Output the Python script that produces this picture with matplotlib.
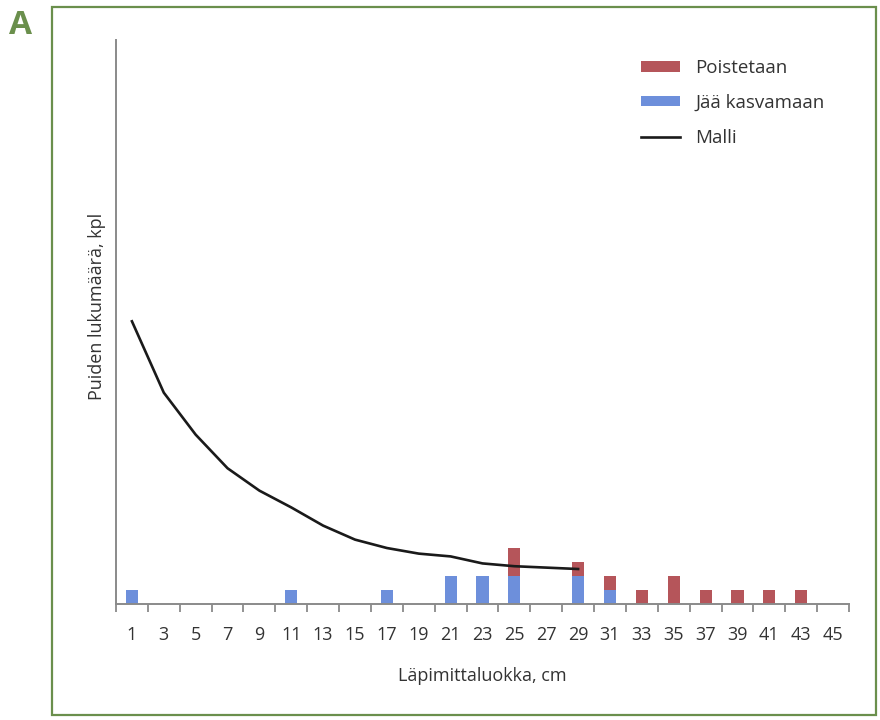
#!/usr/bin/env python3
"""Diameter distribution: trees removed vs left growing, with model curve."""

import matplotlib
matplotlib.use("Agg")
import matplotlib.pyplot as plt
from matplotlib.patches import Rectangle

classes = list(range(1, 47, 2))  # 1, 3, ..., 45
jaa_kasvamaan = [1, 0, 0, 0, 0, 1, 0, 0, 1, 0, 2, 2, 2, 0, 2, 1, 0, 0, 0, 0, 0, 0, 0]
poistetaan = [0, 0, 0, 0, 0, 0, 0, 0, 0, 0, 0, 0, 2, 0, 1, 1, 1, 2, 1, 1, 1, 1, 0]

malli_x = list(range(1, 31, 2))  # 1 ... 29
malli_y = [20.2, 15.1, 12.1, 9.7, 8.1, 6.9, 5.6, 4.6, 4.0, 3.6, 3.4, 2.9, 2.7, 2.6, 2.5]

RED = "#b5555a"
BLUE = "#6d8fdb"
GREEN = "#6a8f4c"
TEXT = "#333333"
SPINE = "#8a8a8a"

plt.rcParams["font.family"] = ["Open Sans", "DejaVu Sans"]

fig = plt.figure(figsize=(8.8, 7.2), dpi=100)
ax = fig.add_axes([116 / 880, 1 - 604 / 720, (849 - 116) / 880, (604 - 40) / 720])

width = 0.76
blue = ax.bar(classes, jaa_kasvamaan, width=width, color=BLUE, zorder=2)
red = ax.bar(classes, poistetaan, width=width, bottom=jaa_kasvamaan, color=RED, zorder=2)
line, = ax.plot(malli_x, malli_y, color="#1a1a1a", lw=1.9, zorder=3)

ax.set_xlim(0, 46)
ax.set_ylim(0, 40.3)
ax.set_yticks([])
ax.set_xticks(classes)
ax.set_xticklabels([str(c) for c in classes], fontsize=13, color=TEXT)
ax.tick_params(axis="x", which="major", length=0, pad=16)
ax.set_xticks(range(0, 47, 2), minor=True)
ax.tick_params(axis="x", which="minor", length=6, width=1.3, color=SPINE, direction="out")

for side in ("top", "right"):
    ax.spines[side].set_visible(False)
for side in ("left", "bottom"):
    ax.spines[side].set_color(SPINE)
    ax.spines[side].set_linewidth(1.4)

ax.legend([red, blue, line], ["Poistetaan", "Jää kasvamaan", "Malli"],
          loc="upper left", bbox_to_anchor=(624 / 880, 1 - 42 / 720),
          bbox_transform=fig.transFigure, frameon=False, fontsize=13.5,
          handlelength=2.1, handleheight=0.5, handletextpad=0.8,
          labelspacing=0.9, labelcolor=TEXT)

fig.text(97 / 880, 1 - 306 / 720, "Puiden lukumäärä, kpl", rotation=90,
         ha="center", va="center", fontsize=13, color=TEXT)
fig.text(482 / 880, 1 - 676 / 720, "Läpimittaluokka, cm", ha="center", va="center",
         fontsize=13, color=TEXT)

fig.text(20 / 880, 1 - 26 / 720, "A", ha="center", va="center", fontsize=24,
         fontweight="bold", color=GREEN)
fig.patches.append(Rectangle((52 / 880, 1 - 715 / 720), (876 - 52) / 880, (715 - 7) / 720,
                             transform=fig.transFigure, fill=False, edgecolor=GREEN, lw=1.6))

fig.savefig("out.png", dpi=100)
